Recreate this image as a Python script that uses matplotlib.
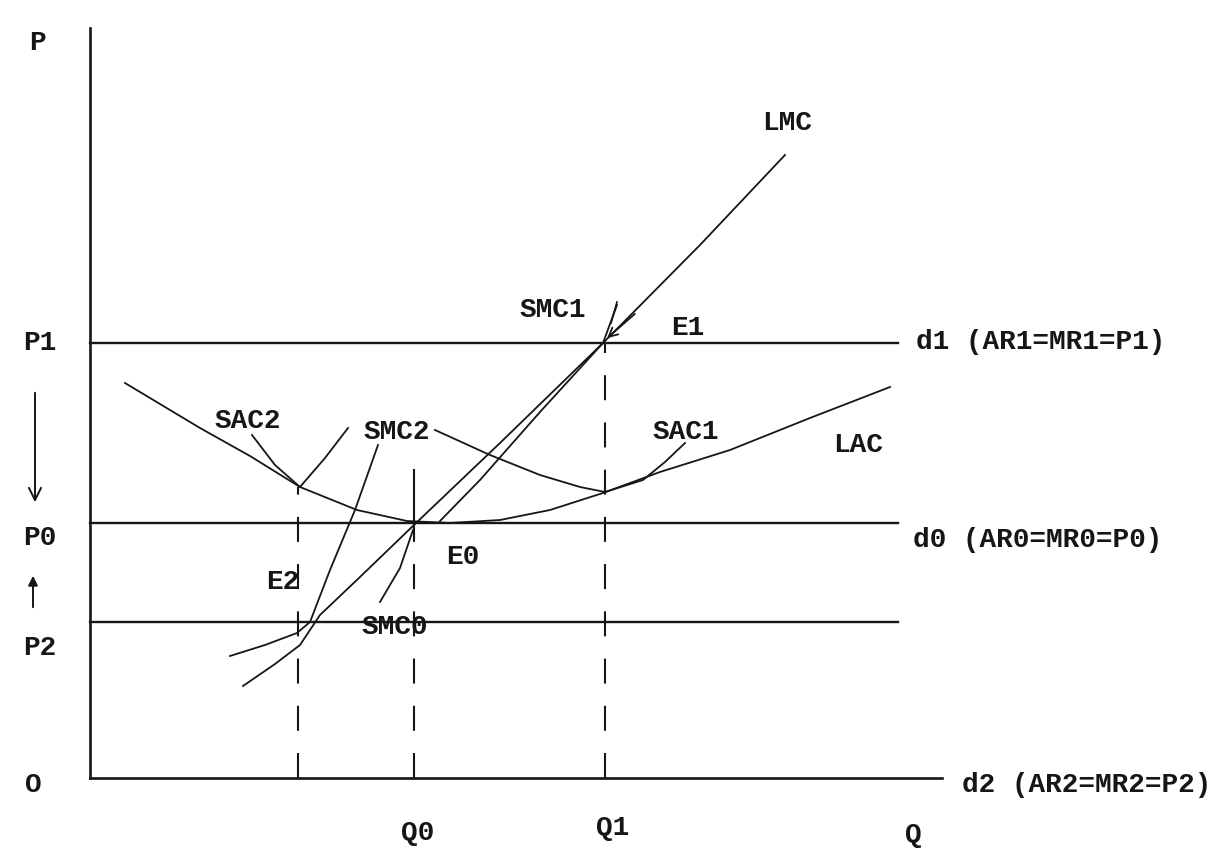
import matplotlib.pyplot as plt

# diagram units: Q to the right, P upwards, origin at the axes corner
q_max, p_max = 852, 750
p1, p0, p2 = 435, 255, 156
q2, q0, q1 = 208, 324, 515

lac_q = [35, 110, 160, 210, 267, 317, 360, 410, 460, 513, 570, 640, 720, 800]
lac_p = [395, 350, 322, 291, 268, 257, 255, 258, 268, 285, 306, 328, 360, 391]

sac2_q = [162, 185, 210, 235, 258]
sac2_p = [343, 313, 291, 320, 350]

sac1_q = [345, 400, 450, 490, 515, 553, 575, 595]
sac1_p = [348, 323, 303, 291, 286, 298, 316, 335]

lmc_q = [153, 185, 210, 230, 270, 325, 410, 513, 610, 695]
lmc_p = [92, 114, 133, 163, 201, 254, 335, 435, 533, 623]

smc2_q = [140, 175, 207, 220, 240, 265, 288]
smc2_p = [122, 133, 145, 156, 208, 268, 333]

smc0_q = [290, 310, 323]
smc0_p = [176, 210, 248]

smc1_q = [350, 390, 450, 513, 527]
smc1_p = [257, 298, 366, 435, 473]

price_labels = [('P1', p1), ('P0', p0 - 15), ('P2', p2 - 26)]
demand_labels = [('d1 (AR1=MR1=P1)', 826, p1 + 1),
                 ('d0 (AR0=MR0=P0)', 823, p0 - 17),
                 ('d2 (AR2=MR2=P2)', 872, -7)]
curve_labels = [('LMC', 697, 655), ('SMC1', 463, 468), ('E1', 598, 450),
                ('SAC2', 158, 357), ('SMC2', 307, 346), ('SAC1', 596, 346),
                ('LAC', 768, 333), ('E0', 373, 221), ('E2', 193, 196),
                ('SMC0', 305, 151)]
q_labels = [('Q0', 328, -55), ('Q1', 523, -50), ('Q', 823, -57)]

ink = '#161616'
plt.rcParams['lines.scale_dashes'] = False
fig = plt.figure(figsize=(12.15, 8.49), dpi=100)
ax = fig.add_axes([0, 0, 1, 1])
ax.set_xlim(-90, 1125)
ax.set_ylim(-71, 778)
ax.axis('off')

# axes
ax.plot([0, 0], [0, p_max], color=ink, lw=1.9)
ax.plot([0, q_max], [0, 0], color=ink, lw=1.9)

# price lines
for p in (p1, p0, p2):
    ax.plot([0, 808], [p, p], color=ink, lw=1.7)

# curves
for qs, ps in [(lac_q, lac_p), (sac2_q, sac2_p), (sac1_q, sac1_p), (lmc_q, lmc_p),
               (smc2_q, smc2_p), (smc0_q, smc0_p), (smc1_q, smc1_p)]:
    ax.plot(qs, ps, color=ink, lw=1.3)

# dashed guides
dash = (0, (18, 16))
ax.plot([q2, q2], [0, 291], color=ink, lw=1.5, ls=dash)
ax.plot([q0, q0], [0, 255], color=ink, lw=1.5, ls=dash)
ax.plot([q0, q0], [255, 308], color=ink, lw=1.5)
ax.plot([q1, q1], [0, p1], color=ink, lw=1.5, ls=dash)

# arrows
ax.annotate('', xy=(-55, 273), xytext=(-55, 388),
            arrowprops=dict(arrowstyle='->', color=ink, lw=1.4, mutation_scale=22))
ax.annotate('', xy=(-57, 205), xytext=(-57, 168),
            arrowprops=dict(arrowstyle='-|>', color=ink, lw=1.4, mutation_scale=14))
ax.annotate('', xy=(515, 438), xytext=(547, 466),
            arrowprops=dict(arrowstyle='->', color=ink, lw=1.3, mutation_scale=16))
ax.plot([527, 521], [476, 455], color=ink, lw=1.2)

font = dict(family='Liberation Mono', fontsize=20, fontweight='bold', color=ink)
ax.text(-53, 735, 'P', ha='center', va='center', **font)
ax.text(-57, -7, 'O', ha='center', va='center', **font)
for s, p in price_labels:
    ax.text(-50, p, s, ha='center', va='center', **font)
for s, q, p in demand_labels:
    ax.text(q, p, s, ha='left', va='center', **font)
for s, q, p in curve_labels:
    ax.text(q, p, s, ha='center', va='center', **font)
for s, q, p in q_labels:
    ax.text(q, p, s, ha='center', va='center', **font)

plt.savefig('out.png')
